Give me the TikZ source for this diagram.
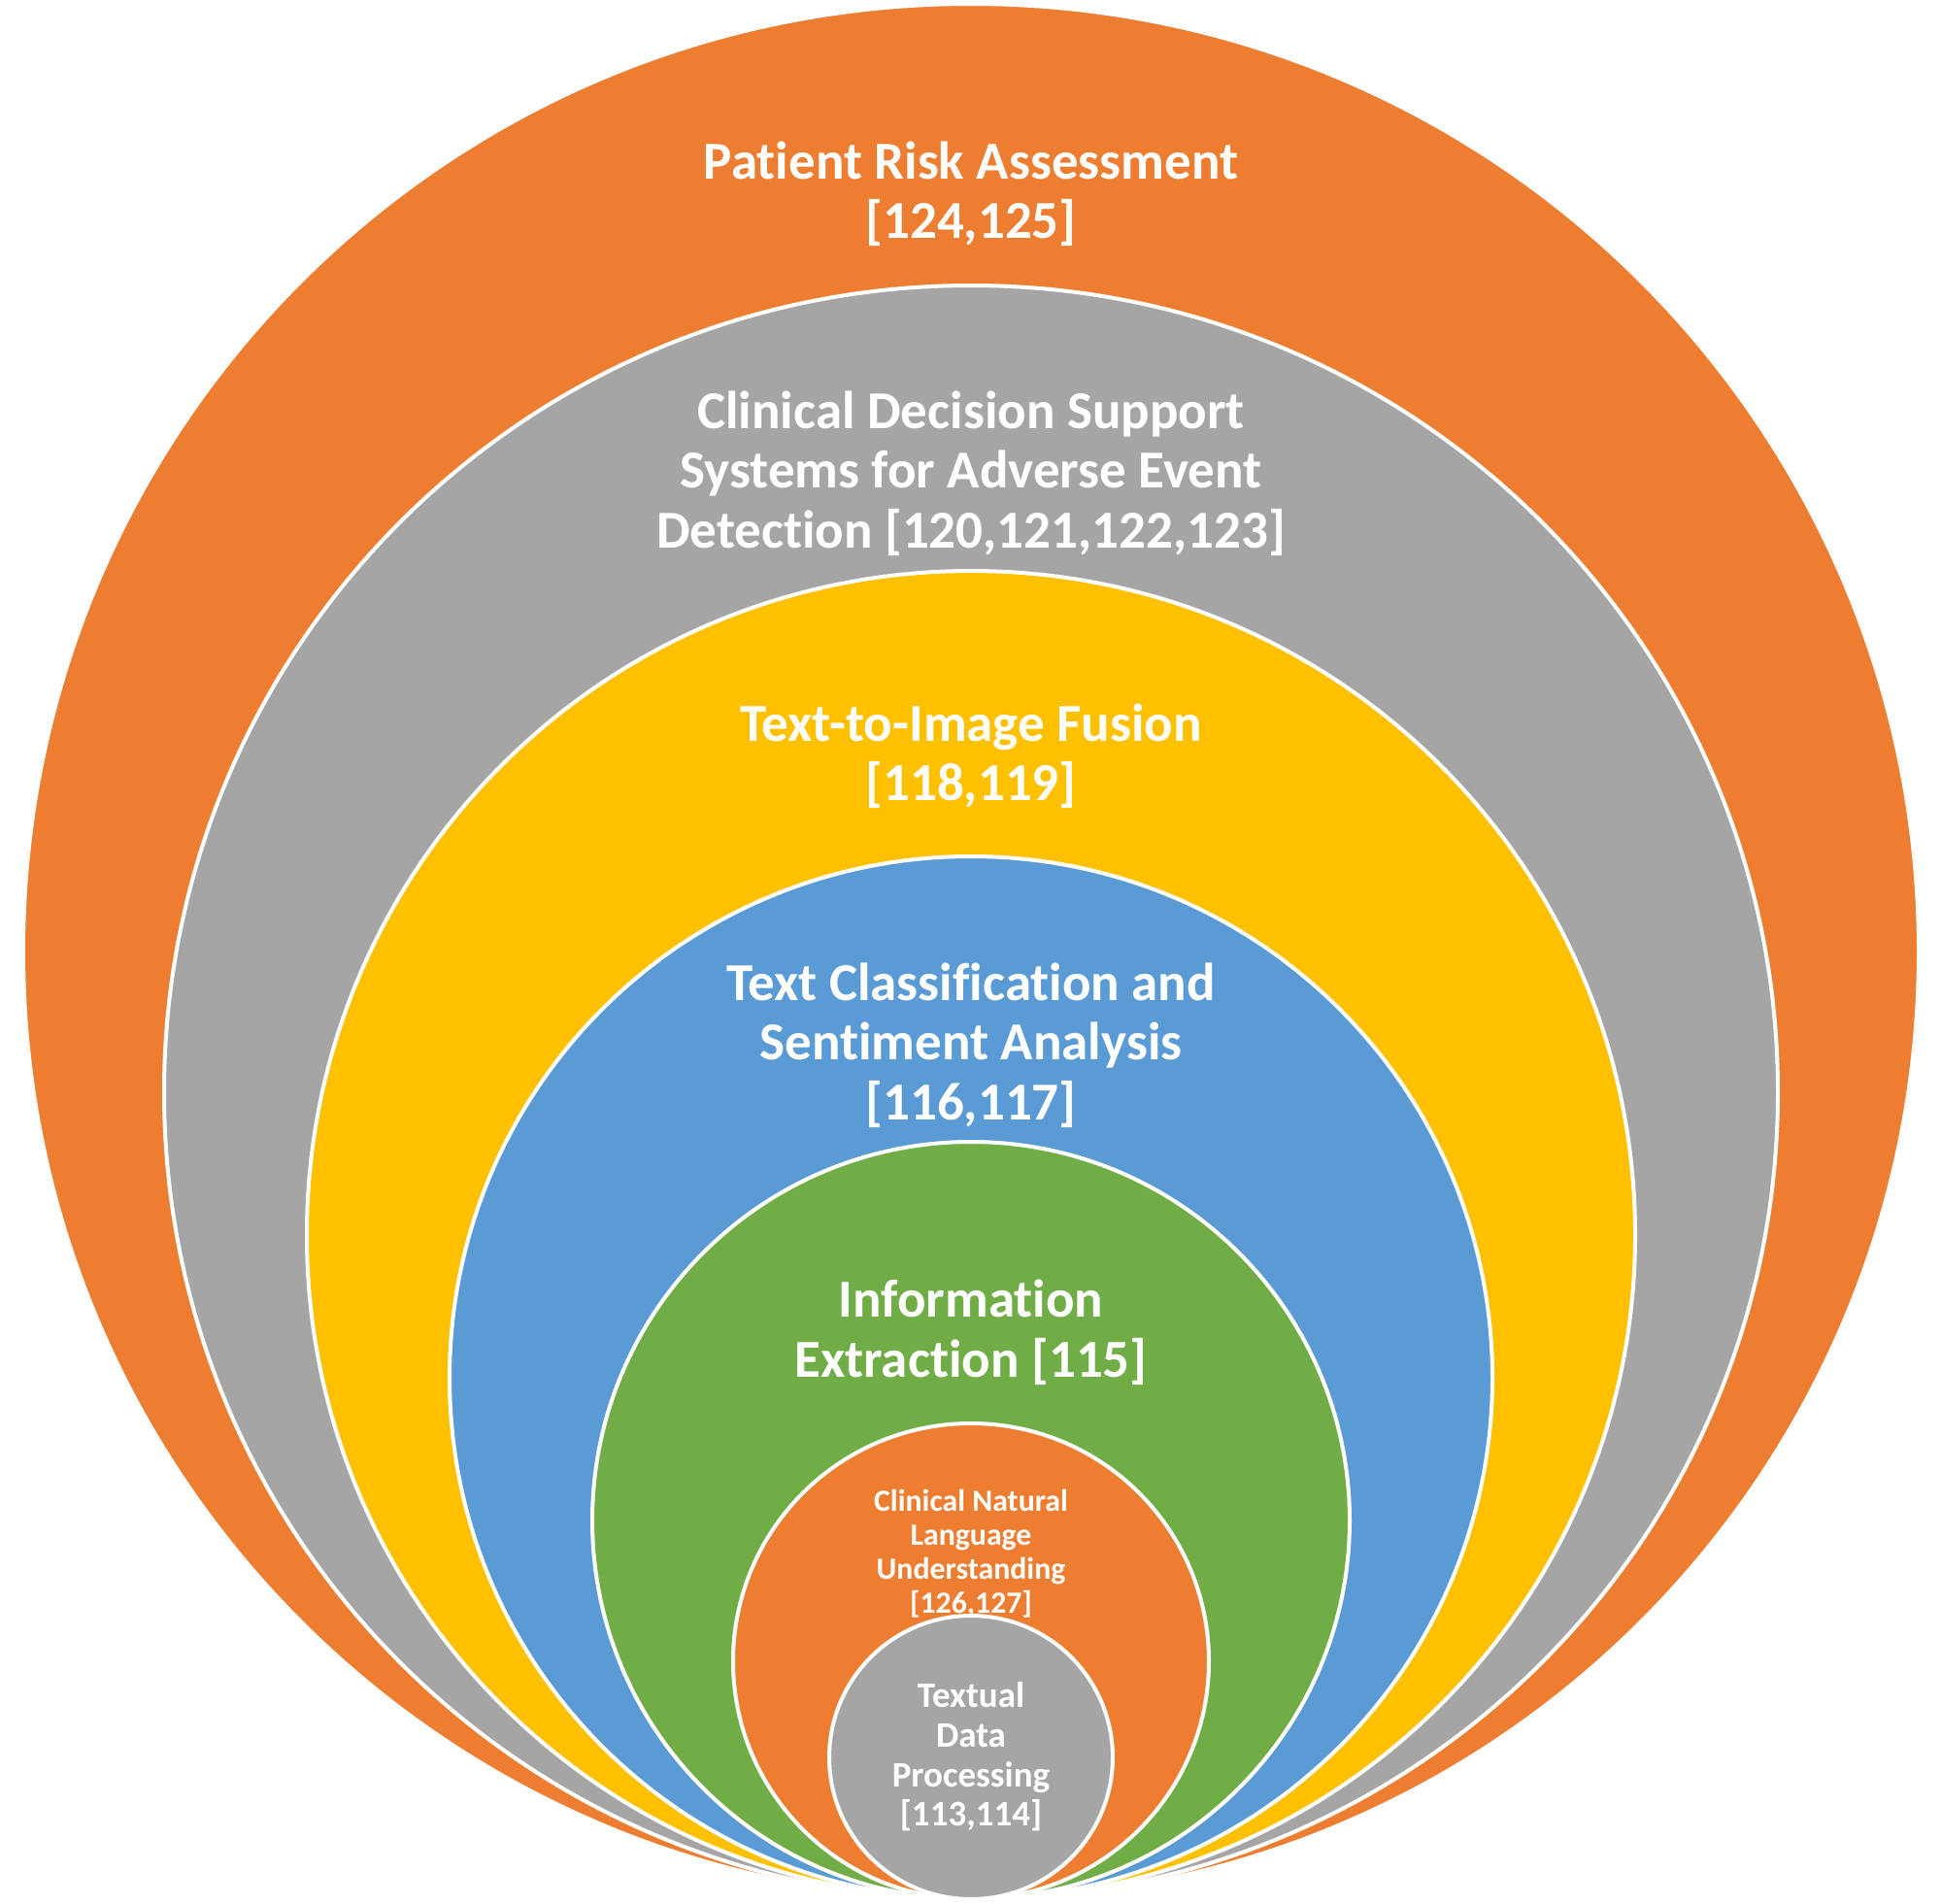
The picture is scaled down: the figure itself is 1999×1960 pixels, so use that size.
\documentclass[tikz,border=0pt]{standalone}
\usepackage{fontspec}
\setmainfont{Carlito}[Ligatures=NoCommon]
\definecolor{corange}{HTML}{ED7D31}
\definecolor{cgrey}{HTML}{A5A5A5}
\definecolor{cyellow}{HTML}{FFC000}
\definecolor{cblue}{HTML}{5B9BD5}
\definecolor{cgreen}{HTML}{70AD47}
\begin{document}
\begin{tikzpicture}[x=1pt,y=-1pt,
  ring/.style={circle, draw=white, line width=4pt, inner sep=0pt, outer sep=0pt},
  lab/.style={text=white, align=center, inner sep=0pt, font=\bfseries\fontsize{55}{61.5}\selectfont},
  labsmall/.style={text=white, align=center, inner sep=0pt, font=\bfseries\fontsize{31.8}{35}\selectfont},
  labgrey/.style={text=white, align=center, inner sep=0pt, font=\bfseries\fontsize{37}{40.7}\selectfont}]
\useasboundingbox (0,0) rectangle (1999,1960);
\fill[white] (0,0) rectangle (1999,1960);
% circles tangent at bottom y=1956, centre x=1000
\node[ring, fill=corange, minimum size=1952pt] (c1) at (1000,980) {};
\node[lab] (t1) at (1000,200) {Patient Risk Assessment\\[0pt][124,125]};
\node[ring, fill=cgrey, minimum size=1662pt] (c2) at (1000,1125) {};
\node[lab] (t2) at (1000,487.5) {Clinical Decision Support\\Systems for Adverse Event\\Detection [120,121,122,123]};
\node[ring, fill=cyellow, minimum size=1368pt] (c3) at (1000,1272) {};
\node[lab] (t3) at (1000,778.5) {Text-to-Image Fusion\\[0pt][118,119]};
\node[ring, fill=cblue, minimum size=1074pt] (c4) at (1000,1419) {};
\node[lab] (t4) at (1000,1076.5) {Text Classification and\\Sentiment Analysis\\[0pt][116,117]};
\node[ring, fill=cgreen, minimum size=780pt] (c5) at (1000,1566) {};
\node[lab] (t5) at (1000,1372) {Information\\Extraction [115]};
\node[ring, fill=corange, minimum size=490pt] (c6) at (1000,1711) {};
\node[labsmall] (t6) at (1000,1600.5) {Clinical Natural\\Language\\Understanding\\[0pt][126,127]};
\node[ring, fill=cgrey, minimum size=292pt] (c7) at (1000,1810) {};
\node[labgrey] (t7) at (1000,1809.5) {Textual\\Data\\Processing\\[0pt][113,114]};
\end{tikzpicture}
\end{document}
